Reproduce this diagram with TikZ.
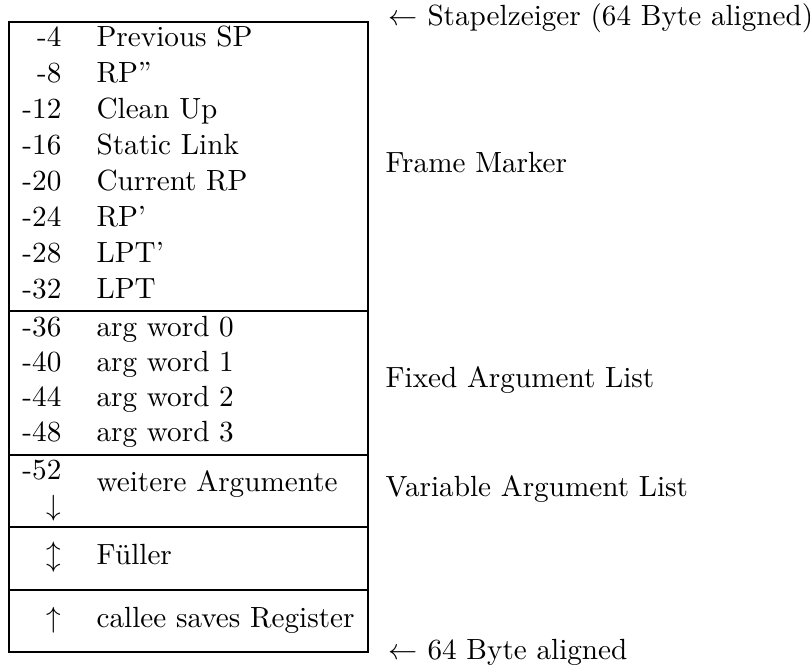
\documentclass[tikz,border=0pt]{standalone}
\usepackage{amsmath}
\usepackage{tikz}

\tikzset{
    ofs/.style={anchor=base east,inner sep=0pt},
    slot/.style={anchor=base west,inner sep=0pt},
    part/.style={anchor=base west,inner sep=0pt},
    rule/.style={line width=0.9pt}
}

\begin{document}
\begin{tikzpicture}[x=0.3425pt,y=-0.3425pt]
    \useasboundingbox (0,0) rectangle (810,666);

    % stack frame outline and separators
    \coordinate (tl) at (9,22);
    \coordinate (br) at (368,652);
    \draw [rule] (tl) rectangle (br);
    \draw [rule] (9,311)--(368,311);
    \draw [rule] (9,455)--(368,455);
    \draw [rule] (9,527)--(368,527);
    \draw [rule] (9,590)--(368,590);

    % frame marker
    \node [ofs] (o4)  at (62,47)  {-4};   \node [slot] (prevsp) at (96,47)  {Previous SP};
    \node [ofs] (o8)  at (62,83)  {-8};   \node [slot] (rpdd)   at (96,83)  {RP''};
    \node [ofs] (o12) at (62,119) {-12};  \node [slot] (clean)  at (96,119) {Clean Up};
    \node [ofs] (o16) at (62,155) {-16};  \node [slot] (static) at (96,155) {Static Link};
    \node [ofs] (o20) at (62,191) {-20};  \node [slot] (currp)  at (96,191) {Current RP};
    \node [ofs] (o24) at (62,227) {-24};  \node [slot] (rpd)    at (96,227) {RP'};
    \node [ofs] (o28) at (62,263) {-28};  \node [slot] (lptd)   at (96,263) {LPT'};
    \node [ofs] (o32) at (62,299) {-32};  \node [slot] (lpt)    at (96,299) {LPT};

    % fixed arguments
    \node [ofs] (o36) at (62,337) {-36};  \node [slot] (arg0) at (96,337) {arg word 0};
    \node [ofs] (o40) at (62,372) {-40};  \node [slot] (arg1) at (96,372) {arg word 1};
    \node [ofs] (o44) at (62,407) {-44};  \node [slot] (arg2) at (96,407) {arg word 2};
    \node [ofs] (o48) at (62,442) {-48};  \node [slot] (arg3) at (96,442) {arg word 3};

    % variable part
    \node [ofs] (o52)  at (62,480) {-52};
    \node [ofs] (down) at (62,516) {$\downarrow$};
    \node [slot] (more) at (96,492) {weitere Argumente};
    \node [ofs] (updown) at (62,565) {$\updownarrow$};
    \node [slot] (fill) at (96,565) {F\"uller};
    \node [ofs] (up) at (62,628) {$\uparrow$};
    \node [slot] (callee) at (96,628) {callee saves Register};

    % annotations on the right
    \node [part] (sp)    at (388,26)  {$\leftarrow$ Stapelzeiger (64 Byte aligned)};
    \node [part] (fm)    at (385,173) {Frame Marker};
    \node [part] (fixed) at (385,388) {Fixed Argument List};
    \node [part] (var)   at (385,497) {Variable Argument List};
    \node [part] (align) at (388,660) {$\leftarrow$ 64 Byte aligned};
\end{tikzpicture}
\end{document}
